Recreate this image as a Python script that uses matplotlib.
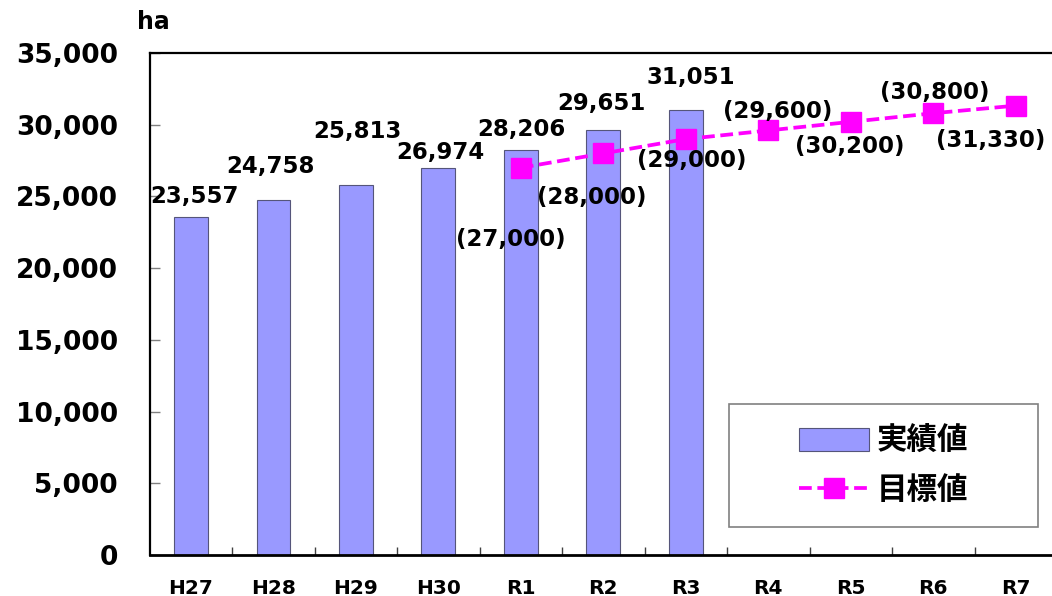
import matplotlib
matplotlib.use("Agg")
import matplotlib.pyplot as plt
from matplotlib.patches import Rectangle
from matplotlib.ticker import FuncFormatter, FixedLocator

plt.rcParams['font.family'] = ['DejaVu Sans', 'Noto Sans CJK JP']

# ---- data ----
categories = ["H27", "H28", "H29", "H30", "R1", "R2", "R3", "R4", "R5", "R6", "R7"]
actual_values = [23557, 24758, 25813, 26974, 28206, 29651, 31051]
target_categories = ["R1", "R2", "R3", "R4", "R5", "R6", "R7"]
target_values = [27000, 28000, 29000, 29600, 30200, 30800, 31330]
y_ticks = [0, 5000, 10000, 15000, 20000, 25000, 30000, 35000]
legend_labels = ["実績値", "目標値"]
unit_label = "ha"

# ---- label offsets (pixels, style only) ----
actual_offsets = [(4, 21), (-3, 33), (2, 53), (1.5, 16), (1, 21), (-1.5, 26), (5, 32)]
target_offsets = [(-10, -72), (-12, -44), (6, -21), (9, 18.5), (-1, -25), (1.5, 21), (-25, -35)]

W, H = 1052, 596
fig = plt.figure(figsize=(W / 100, H / 100), dpi=100)
left_px, right_px, top_px, bottom_px = 149.7, 1057, 53, 555
ax = fig.add_axes([left_px / W, 1 - bottom_px / H, (right_px - left_px) / W, (bottom_px - top_px) / H])

x_idx = list(range(len(categories)))
actual_x = x_idx[:len(actual_values)]
target_x = [categories.index(c) for c in target_categories]

bars = ax.bar(actual_x, actual_values, width=0.41, color="#9999FF",
              edgecolor="#55557A", linewidth=0.8, zorder=2, label=legend_labels[0])
line, = ax.plot(target_x, target_values, color="#FF00FF", linewidth=2.7,
                linestyle=(0, (3.4, 1.5)), marker="s", markersize=14,
                markerfacecolor="#FF00FF", markeredgecolor="#FF00FF",
                zorder=3, label=legend_labels[1])

for x, v, (dx, dy) in zip(actual_x, actual_values, actual_offsets):
    ax.annotate(f"{v:,}", (x, v), xytext=(dx, dy), textcoords="offset pixels",
                ha="center", va="center", fontsize=16.5, fontweight="bold", zorder=4)
for x, v, (dx, dy) in zip(target_x, target_values, target_offsets):
    ax.annotate(f"({v:,})", (x, v), xytext=(dx, dy), textcoords="offset pixels",
                ha="center", va="center", fontsize=16.5, fontweight="bold", zorder=4)

ax.set_xlim(-0.5, len(categories) - 0.5)
ax.set_ylim(0, 35000)
ax.set_yticks(y_ticks)
ax.yaxis.set_major_formatter(FuncFormatter(lambda v, p: f"{int(v):,}"))
ax.set_xticks(x_idx)
ax.set_xticklabels(categories)
ax.xaxis.set_minor_locator(FixedLocator([i + 0.5 for i in range(len(categories) - 1)]))

ax.tick_params(axis="y", direction="in", length=7, width=1, color="#808080",
               pad=23, labelsize=19)
for lab in ax.get_yticklabels():
    lab.set_fontweight("bold")
ax.tick_params(axis="x", which="major", length=0, pad=17, labelsize=14.5)
for lab in ax.get_xticklabels():
    lab.set_fontweight("bold")
ax.tick_params(axis="x", which="minor", direction="in", length=6, width=1, color="#404040")

for s in ["left", "top", "bottom", "right"]:
    ax.spines[s].set_color("black")
ax.spines["left"].set_linewidth(1.6)
ax.spines["top"].set_linewidth(1.6)
ax.spines["bottom"].set_linewidth(2.0)
ax.spines["right"].set_linewidth(1.6)

fig.text(137 / W, 1 - 22 / H, unit_label, ha="left", va="center",
         fontsize=17, fontweight="bold")

# legend box
bx0, bx1, by0, by1 = 729, 1038, 404, 527
fig.patches.append(Rectangle((bx0 / W, 1 - by1 / H), (bx1 - bx0) / W, (by1 - by0) / H,
                             transform=fig.transFigure, facecolor="white",
                             edgecolor="#808080", linewidth=1.2, zorder=5))
leg = fig.legend(handles=[bars, line], labels=legend_labels,
                 loc="center", bbox_to_anchor=((bx0 + bx1) / 2 / W, 1 - (by0 + by1) / 2 / H),
                 frameon=False, prop={"family": "Noto Sans CJK JP", "weight": "bold", "size": 22},
                 handlelength=2.3, handleheight=0.75, handletextpad=0.25,
                 labelspacing=0.55, numpoints=1, borderpad=0)
leg.set_zorder(6)

fig.savefig("out.png", dpi=100)
